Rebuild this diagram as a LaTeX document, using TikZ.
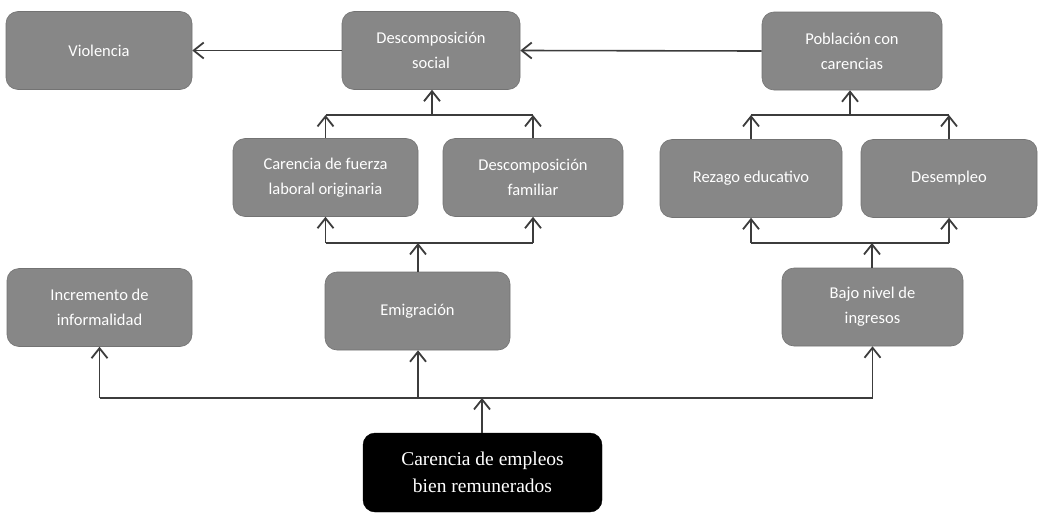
\documentclass[tikz,border=0pt]{standalone}
\usepackage{fontspec}
\setmainfont{Carlito}
\newfontfamily\serifbox{Liberation Serif}
\usetikzlibrary{arrows.meta}
\definecolor{boxgray}{RGB}{135,135,135}
\definecolor{linegray}{RGB}{60,60,60}
\tikzset{
  gbox/.style={draw=boxgray!85!black, line width=0.6pt, fill=boxgray, rounded corners=12pt,
    text=white, align=center, inner sep=2pt, font=\fontsize{16.5}{25}\selectfont,
    minimum height=78pt},
  kbox/.style={draw=black, fill=black, rounded corners=12pt, text=white, align=center,
    inner sep=2pt, font=\serifbox\fontsize{19.5}{27}\selectfont, minimum height=79pt},
  conn/.style={draw=linegray, line width=1.6pt},
  arr/.style={conn, -{Straight Barb[length=10pt,width=16pt,line width=1.8pt]}}
}
\begin{document}
\begin{tikzpicture}[x=1pt,y=-1pt]
\useasboundingbox[fill=white] (0,0) rectangle (1038,514);
% boxes
\node[gbox, minimum width=186pt] (viol) at (99,50.5) {Violencia};
\node[gbox, minimum width=178pt] (dsoc) at (431,50.5) {Descomposición\\social};
\node[gbox, minimum width=180pt] (pob) at (852,51) {Población con\\carencias};
\node[gbox, minimum width=185pt] (cfl) at (325.5,177.5) {Carencia de fuerza\\laboral originaria};
\node[gbox, minimum width=180pt] (dfam) at (533,177.5) {Descomposición\\familiar};
\node[gbox, minimum width=182pt] (rez) at (751,178.5) {Rezago educativo};
\node[gbox, minimum width=176pt] (des) at (949,178.5) {Desempleo};
\node[gbox, minimum width=185pt] (inc) at (99.5,307.5) {Incremento de\\informalidad};
\node[gbox, minimum width=185pt] (emi) at (417.5,311) {Emigración};
\node[gbox, minimum width=181pt] (bajo) at (872.5,307) {Bajo nivel de\\ingresos};
\node[kbox, minimum width=239pt] (car) at (482.5,472.5) {Carencia de empleos\\bien remunerados};
% junction points
\coordinate (jA) at (432,115);
\coordinate (jB) at (418,243);
\coordinate (jC) at (850,115);
\coordinate (jD) at (872,243);
\coordinate (jE) at (482,398);
% horizontal arrows
\draw[arr] (dsoc.west) -- (viol.east);
\draw[arr] (pob.west) -- (dsoc.east);
% left upper group
\draw[conn] (cfl.north |- jA) -- (dfam.north |- jA);
\draw[arr] (cfl.north) -- (cfl.north |- jA);
\draw[arr] (dfam.north) -- (dfam.north |- jA);
\draw[arr] (jA) -- (jA |- dsoc.south);
% left lower group
\draw[conn] (cfl.south |- jB) -- (dfam.south |- jB);
\draw[arr] (cfl.south |- jB) -- (cfl.south);
\draw[arr] (dfam.south |- jB) -- (dfam.south);
\draw[arr] (jB |- emi.north) -- (jB);
% right upper group
\draw[conn] (rez.north |- jC) -- (des.north |- jC);
\draw[arr] (rez.north) -- (rez.north |- jC);
\draw[arr] (des.north) -- (des.north |- jC);
\draw[arr] (jC) -- (jC |- pob.south);
% right lower group
\draw[conn] (rez.south |- jD) -- (des.south |- jD);
\draw[arr] (rez.south |- jD) -- (rez.south);
\draw[arr] (des.south |- jD) -- (des.south);
\draw[arr] (jD |- bajo.north) -- (jD);
% bottom bar
\draw[conn] (inc.south |- jE) -- (bajo.south |- jE);
\draw[arr] (inc.south |- jE) -- (inc.south);
\draw[arr] (jE -| jB) -- (jB |- emi.south);
\draw[arr] (bajo.south |- jE) -- (bajo.south);
\draw[arr] (car.north -| jE) -- (jE);
\end{tikzpicture}
\end{document}
